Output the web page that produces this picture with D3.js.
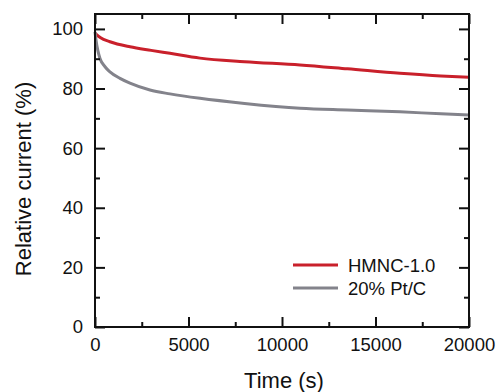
<!DOCTYPE html>
<html><head><meta charset="utf-8">
<script src="https://cdn.jsdelivr.net/npm/d3@7"></script>
<style>body{margin:0;background:#fff}svg{display:block}text{font-family:"Liberation Sans",Arial,sans-serif;fill:#111}</style>
</head><body><svg id="c" width="498" height="392"></svg>
<script>
const seriesNames = ["HMNC-1.0", "20% Pt/C"];
const timeHMNC = [0, 100, 300, 800, 1870, 3000, 4010, 5615, 8000, 10963, 13500, 16310, 18500, 20000];
const valHMNC  = [98.6, 98.0, 97.0, 95.7, 94.0, 92.8, 91.8, 90.2, 89.0, 87.9, 86.6, 85.1, 84.2, 83.8];
const timePt = [0, 50, 150, 267, 535, 800, 1337, 1870, 2940, 4010, 5615, 8000, 10963, 13500, 16310, 18500, 20000];
const valPt  = [99.0, 96.5, 92.8, 90.1, 87.3, 85.6, 83.4, 81.8, 79.5, 78.2, 76.7, 75.0, 73.4, 72.8, 72.2, 71.5, 71.1];
const xTicks = [0, 5000, 10000, 15000, 20000];
const yTicks = [0, 20, 40, 60, 80, 100];
const colors = ["#c9202b", "#83838b"];

const svg = d3.select("#c");
const m = {l:95, t:14, r:29, b:65};
const W = 498 - m.l - m.r, H = 392 - m.t - m.b;
const x = d3.scaleLinear().domain([0, 20000]).range([m.l, m.l + W]);
const y = d3.scaleLinear().domain([0, 105]).range([m.t + H, m.t]);

const data = [
  timeHMNC.map((t,i)=>[t, valHMNC[i]]),
  timePt.map((t,i)=>[t, valPt[i]])
];
const line = d3.line().x(d=>x(d[0])).y(d=>y(d[1])).curve(d3.curveMonotoneX);
const g = svg.append("g");
data.forEach((d,i)=>{
  g.append("path").datum(d).attr("d", line).attr("fill","none")
   .attr("stroke", colors[i]).attr("stroke-width", 3);
});

const minorX = d3.range(2500, 20000, 5000);
const minorY = d3.range(10, 105, 20);
const FS = 18.5;
function axes(){
  const b = svg.append("g").attr("transform",`translate(0,${m.t+H})`)
    .call(d3.axisBottom(x).tickValues(xTicks).tickSizeInner(-10).tickSizeOuter(0).tickPadding(11).tickFormat(d3.format("d")));
  b.append("g").call(d3.axisBottom(x).tickValues(minorX).tickSize(-5).tickFormat(""));
  const t = svg.append("g").attr("transform",`translate(0,${m.t})`)
    .call(d3.axisTop(x).tickValues(xTicks).tickSizeInner(-10).tickSizeOuter(0).tickFormat(""));
  t.append("g").call(d3.axisTop(x).tickValues(minorX).tickSize(-5).tickFormat(""));
  const l = svg.append("g").attr("transform",`translate(${m.l},0)`)
    .call(d3.axisLeft(y).tickValues(yTicks).tickSizeInner(-10).tickSizeOuter(0).tickPadding(12));
  l.append("g").call(d3.axisLeft(y).tickValues(minorY).tickSize(-5).tickFormat(""));
  const r = svg.append("g").attr("transform",`translate(${m.l+W},0)`)
    .call(d3.axisRight(y).tickValues(yTicks).tickSizeInner(-10).tickSizeOuter(0).tickFormat(""));
  r.append("g").call(d3.axisRight(y).tickValues(minorY).tickSize(-5).tickFormat(""));
  svg.selectAll(".domain").remove();
  svg.selectAll(".tick line").attr("stroke","#111").attr("stroke-width",2);
  svg.selectAll(".tick text").attr("font-size",FS).attr("fill","#111").attr("font-family","'Liberation Sans',Arial,sans-serif");
}
axes();
svg.append("rect").attr("x",m.l).attr("y",m.t).attr("width",W).attr("height",H)
  .attr("fill","none").attr("stroke","#111").attr("stroke-width",2);

svg.append("text").attr("x", 284).attr("y", 388).attr("text-anchor","middle")
  .attr("font-size",22).text("Time (s)");
svg.append("text").attr("transform",`translate(31,179) rotate(-90)`).attr("text-anchor","middle")
  .attr("font-size",22).text("Relative current (%)");

const leg = svg.append("g");
seriesNames.forEach((n,i)=>{
  const yy = 265 + i*23;
  leg.append("line").attr("x1",293).attr("x2",338).attr("y1",yy).attr("y2",yy)
    .attr("stroke",colors[i]).attr("stroke-width",3);
  leg.append("text").attr("x",348).attr("y",yy+6.5).attr("font-size",FS).text(n);
});
</script></body></html>
